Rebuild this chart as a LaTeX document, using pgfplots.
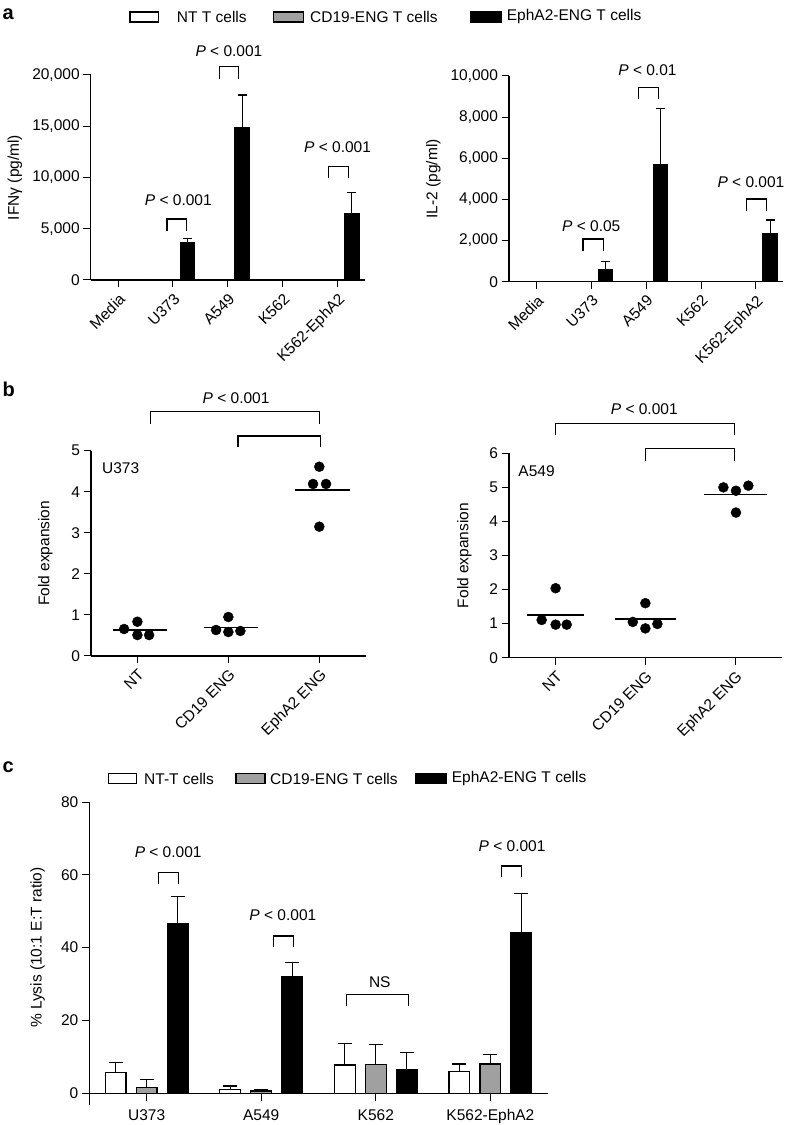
\documentclass[border=0pt]{standalone}
\usepackage{fontspec}
\setmainfont{Liberation Sans}
\usepackage{pgfplots}
\pgfplotsset{compat=1.18}
\definecolor{bargray}{RGB}{160,160,160}
\newcommand\fs{\fontsize{15.5}{18}\selectfont}
\tikzset{br/.style={line width=1.2pt}}
\pgfplotsset{
  base/.style={
    scale only axis,
    axis x line*=bottom, axis y line*=left,
    xtick pos=left, ytick pos=left,
    axis line style={line width=1.2pt},
    tick style={black, line width=1pt},
    tick align=outside,
    major tick length=7.5pt,
    tick label style={font=\fs, black},
    label style={font=\fs},
    /pgf/number format/assume math mode=true,
    /pgf/number format/1000 sep={,},
    scaled y ticks=false,
    clip=false,
  },
  nt/.style={ybar, bar shift=0pt, fill=white, draw=black, line width=1.2pt},
  cd/.style={ybar, bar shift=0pt, fill=bargray, draw=black, line width=1.2pt},
  eph/.style={ybar, bar shift=0pt, fill=black, draw=black, line width=1.2pt},
  errs/.style={error bars/.cd, y dir=plus, y explicit,
     error bar style={line width=1.2pt, black},
     error mark options={rotate=90, line width=1.2pt, mark size=#1, black}},
}
\begin{document}
\begin{tikzpicture}
\useasboundingbox (0pt,0pt) rectangle (792pt,1125pt);

% ---------------- panel a left ----------------
\begin{axis}[base, at={(90.7pt,845pt)}, anchor=south west,
  width=274.3pt, height=205pt,
  xmin=-0.5, xmax=4.5, ymin=0, ymax=20000,
  ytick={0,5000,10000,15000,20000},
  xtick={0,1,2,3,4}, xticklabels={Media,U373,A549,K562,K562-EphA2},
  xticklabel style={rotate=45, anchor=north east},
  ylabel={IFNγ (pg/ml)},
  ylabel style={at={(axis description cs:-0.276,0.5)}, anchor=center},
  bar width=14.3pt]
\addplot[nt] coordinates {(-0.261,0) (0.739,0) (1.739,0) (2.739,50) (3.739,40)};
\addplot[cd] coordinates {(0,0) (1,0) (2,0) (3,60) (4,40)};
\addplot[eph, errs=4.5pt] coordinates {(0.261,40) +- (0,0) (1.261,3680) +- (0,390) (2.261,14860) +- (0,3190) (3.261,60) +- (0,0) (4.261,6500) +- (0,2020)};
\draw[br] (axis cs:0.891,4780) -- (axis cs:0.891,5950) -- (axis cs:1.248,5950) -- (axis cs:1.248,4780);
\draw[br] (axis cs:1.841,19640) -- (axis cs:1.841,20800) -- (axis cs:2.2,20800) -- (axis cs:2.2,19640);
\draw[br] (axis cs:3.841,9920) -- (axis cs:3.841,11050) -- (axis cs:4.206,11050) -- (axis cs:4.206,9920);
\node[font=\fs] at (axis cs:1.097,7800) {\textit{P} < 0.001};
\node[font=\fs] at (axis cs:2.02,22370) {\textit{P} < 0.001};
\node[font=\fs] at (axis cs:4.0,13000) {\textit{P} < 0.001};
\end{axis}

% ---------------- panel a right ----------------
\begin{axis}[base, at={(509pt,843.3pt)}, anchor=south west,
  width=274.3pt, height=205.7pt,
  xmin=-0.5, xmax=4.5, ymin=0, ymax=10000,
  ytick={0,2000,4000,6000,8000,10000},
  xtick={0,1,2,3,4}, xticklabels={Media,U373,A549,K562,K562-EphA2},
  xticklabel style={rotate=45, anchor=north east},
  ylabel={IL-2 (pg/ml)},
  ylabel style={at={(axis description cs:-0.276,0.5)}, anchor=center},
  bar width=14.3pt]
\addplot[nt] coordinates {(-0.261,0) (0.739,0) (1.739,0) (2.739,0) (3.739,0)};
\addplot[cd] coordinates {(0,0) (1,0) (2,0) (3,0) (4,0)};
\addplot[eph, errs=4.5pt] coordinates {(0.261,0) +- (0,0) (1.261,603) +- (0,370) (2.261,5673) +- (0,2737) (3.261,0) +- (0,0) (4.261,2319) +- (0,681)};
\draw[br] (axis cs:0.847,1492) -- (axis cs:0.847,2076) -- (axis cs:1.224,2076) -- (axis cs:1.224,1492);
\draw[br] (axis cs:1.854,8882) -- (axis cs:1.854,9450) -- (axis cs:2.219,9450) -- (axis cs:2.219,8882);
\draw[br] (axis cs:3.829,3451) -- (axis cs:3.829,4020) -- (axis cs:4.193,4020) -- (axis cs:4.193,3451);
\node[font=\fs] at (axis cs:1.0,2708) {\textit{P} < 0.05};
\node[font=\fs] at (axis cs:2.024,10290) {\textit{P} < 0.01};
\node[font=\fs] at (axis cs:3.91,4861) {\textit{P} < 0.001};
\end{axis}

% ---------------- panel b left ----------------
\begin{axis}[base, at={(91pt,469pt)}, anchor=south west,
  width=274.7pt, height=205.3pt,
  xmin=-0.51, xmax=2.51, ymin=0, ymax=5,
  ytick={0,1,2,3,4,5},
  xtick={0,1,2}, xticklabels={NT,CD19 ENG,EphA2 ENG},
  xticklabel style={rotate=45, anchor=north east},
  ylabel={Fold expansion},
  ylabel style={at={(axis description cs:-0.166,0.5)}, anchor=center}]
\addplot[only marks, mark=*, mark size=5pt, black] coordinates {
  (-0.146,0.657) (0,0.835) (0,0.51) (0.129,0.51)
  (0.865,0.633) (1,0.95) (1,0.584) (1.132,0.609)
  (2,4.61) (1.931,4.19) (2.074,4.19) (2,3.15)};
\addplot[black, line width=1.3pt] coordinates {(-0.264,0.633) (0.323,0.633)};
\addplot[black, line width=1.3pt] coordinates {(0.729,0.70) (1.33,0.70)};
\addplot[black, line width=1.3pt] coordinates {(1.736,4.04) (2.34,4.04)};
\draw[br] (axis cs:0.147,5.66) -- (axis cs:0.147,5.95) -- (axis cs:2.0,5.95) -- (axis cs:2.0,5.66);
\draw[br] (axis cs:1.107,5.08) -- (axis cs:1.107,5.36) -- (axis cs:2.01,5.36) -- (axis cs:2.01,5.08);
\node[font=\fs] at (axis cs:1.085,6.29) {\textit{P} < 0.001};
\node[font=\fs, anchor=west, inner sep=0pt] at (axis cs:-0.39,4.57) {U373};
\end{axis}

% ---------------- panel b right ----------------
\begin{axis}[base, at={(509pt,467.3pt)}, anchor=south west,
  width=272.7pt, height=204.4pt,
  xmin=-0.52, xmax=2.52, ymin=0, ymax=6,
  ytick={0,1,2,3,4,5,6},
  xtick={0,1,2}, xticklabels={NT,CD19 ENG,EphA2 ENG},
  xticklabel style={rotate=45, anchor=north east},
  ylabel={Fold expansion},
  ylabel style={at={(axis description cs:-0.164,0.5)}, anchor=center}]
\addplot[only marks, mark=*, mark size=5pt, black] coordinates {
  (-0.156,1.107) (0,2.04) (0,0.97) (0.123,0.97)
  (0.86,1.05) (1,1.6) (1,0.86) (1.134,0.99)
  (1.87,5.0) (2.01,4.9) (2.148,5.05) (2.01,4.26)};
\addplot[black, line width=1.3pt] coordinates {(-0.317,1.253) (0.319,1.253)};
\addplot[black, line width=1.3pt] coordinates {(0.662,1.136) (1.342,1.136)};
\addplot[black, line width=1.3pt] coordinates {(1.658,4.8) (2.353,4.8)};
\draw[br] (axis cs:0,6.54) -- (axis cs:0,6.88) -- (axis cs:1.99,6.88) -- (axis cs:1.99,6.54);
\draw[br] (axis cs:1,5.78) -- (axis cs:1,6.13) -- (axis cs:1.99,6.13) -- (axis cs:1.99,5.78);
\node[font=\fs] at (axis cs:0.988,7.29) {\textit{P} < 0.001};
\node[font=\fs, anchor=west, inner sep=0pt] at (axis cs:-0.417,5.49) {A549};
\end{axis}

% ---------------- panel c ----------------
\begin{axis}[base, at={(89.3pt,31.7pt)}, anchor=south west,
  width=458.4pt, height=291.3pt,
  xmin=-0.5, xmax=3.5, ymin=0, ymax=80,
  ytick={0,20,40,60,80},
  y axis line style={shorten <=-11.7pt},
  xtick={0,1,2,3}, xticklabels={U373,A549,K562,K562-EphA2},
  xticklabel style={yshift=-5pt},
  ylabel={\% Lysis (10:1 E:T ratio)},
  ylabel style={at={(axis description cs:-0.113,0.5)}, anchor=center},
  bar width=20.7pt]
\addplot[nt, errs=7pt] coordinates {(-0.2705,5.77) +- (0,2.73) (0.7295,1.1) +- (0,0.9) (1.7295,7.77) +- (0,5.93) (2.7295,5.95) +- (0,2.1)};
\addplot[cd, errs=7pt] coordinates {(0,1.65) +- (0,2.19) (1,0.64) +- (0,0.3) (2,7.96) +- (0,5.49) (3,8.05) +- (0,2.55)};
\addplot[eph, errs=7pt] coordinates {(0.2705,46.7) +- (0,7.3) (1.2705,32.0) +- (0,3.9) (2.2705,6.6) +- (0,4.7) (3.2705,44.1) +- (0,10.8)};
\draw[br] (axis cs:0.101,57.5) -- (axis cs:0.101,60.6) -- (axis cs:0.279,60.6) -- (axis cs:0.279,57.5);
\draw[br] (axis cs:1.107,40.1) -- (axis cs:1.107,43.2) -- (axis cs:1.282,43.2) -- (axis cs:1.282,40.1);
\draw[br] (axis cs:1.744,24.0) -- (axis cs:1.744,27.2) -- (axis cs:2.285,27.2) -- (axis cs:2.285,24.0);
\draw[br] (axis cs:3.096,59.3) -- (axis cs:3.096,62.4) -- (axis cs:3.27,62.4) -- (axis cs:3.27,59.3);
\node[font=\fs] at (axis cs:0.188,66.1) {\textit{P} < 0.001};
\node[font=\fs] at (axis cs:1.189,48.8) {\textit{P} < 0.001};
\node[font=\fs] at (axis cs:2.035,30.4) {NS};
\node[font=\fs] at (axis cs:3.189,67.9) {\textit{P} < 0.001};
\end{axis}

% ---------------- legends and panel letters ----------------
\draw[line width=1.2pt, fill=white] (130pt,1103pt) rectangle (158.7pt,1113pt);
\node[font=\fs, anchor=west, inner sep=0pt] at (176.7pt,1108pt) {NT T cells};
\draw[line width=1.2pt, fill=bargray] (273.3pt,1103pt) rectangle (303.3pt,1113pt);
\node[font=\fs, anchor=west, inner sep=0pt] at (310pt,1108pt) {CD19-ENG T cells};
\draw[line width=1.2pt, fill=black] (471pt,1103pt) rectangle (501.7pt,1113pt);
\node[font=\fs, anchor=west, inner sep=0pt] at (506.7pt,1108pt) {EphA2-ENG T cells};

\draw[line width=1.2pt, fill=white] (108.3pt,341.2pt) rectangle (136.7pt,351.7pt);
\node[font=\fs, anchor=west, inner sep=0pt] at (144pt,346.5pt) {NT-T cells};
\draw[line width=1.2pt, fill=bargray] (236pt,341.2pt) rectangle (265pt,351.7pt);
\node[font=\fs, anchor=west, inner sep=0pt] at (270pt,346.5pt) {CD19-ENG T cells};
\draw[line width=1.2pt, fill=black] (416pt,341.2pt) rectangle (446.7pt,351.7pt);
\node[font=\fs, anchor=west, inner sep=0pt] at (451.7pt,346.5pt) {EphA2-ENG T cells};

\node[font=\fontsize{20}{24}\selectfont\bfseries, anchor=base west, inner sep=0pt] at (2.5pt,1105pt) {a};
\node[font=\fontsize{20}{24}\selectfont\bfseries, anchor=base west, inner sep=0pt] at (2.5pt,728.3pt) {b};
\node[font=\fontsize{20}{24}\selectfont\bfseries, anchor=base west, inner sep=0pt] at (2.5pt,352.3pt) {c};
\end{tikzpicture}
\end{document}
